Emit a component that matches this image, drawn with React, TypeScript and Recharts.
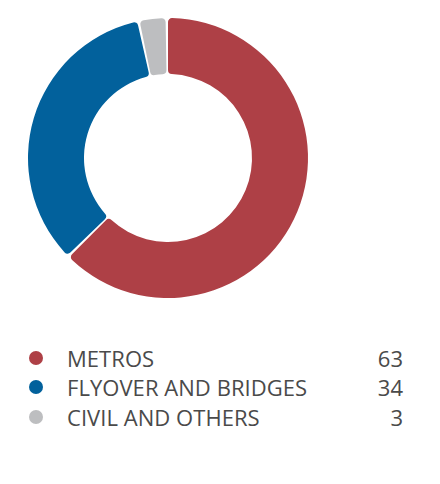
import React from 'react';
import { PieChart, Pie, Cell } from 'recharts';

const categories = ['METROS', 'FLYOVER AND BRIDGES', 'CIVIL AND OTHERS'];
const values = [63, 34, 3];
const colors = ['#AE4046', '#02619C', '#BDBEC0'];

const data = categories.map((name, i) => ({ name, value: values[i] }));

function LegendTable() {
  return (
    <div
      style={{
        position: 'absolute',
        top: 335,
        left: 0,
        width: 432,
        fontFamily: '"Open Sans", sans-serif',
        fontSize: 22,
        color: '#4a4a4a',
      }}
    >
      {categories.map((name, index) => (
        <div key={name} style={{ display: 'flex', alignItems: 'center', height: 29.5 }}>
          <span
            style={{
              width: 14,
              height: 14,
              borderRadius: '50%',
              backgroundColor: colors[index],
              display: 'inline-block',
              marginLeft: 21,
              marginRight: 24,
            }}
          />
          <span style={{ flex: 1, letterSpacing: 0.05 }}>{name}</span>
          <span style={{ width: 60, textAlign: 'right', marginRight: 37 }}>{values[index]}</span>
        </div>
      ))}
    </div>
  );
}

export default function App() {
  return (
    <div style={{ position: 'relative', width: 432, height: 476 }}>
      <PieChart width={432} height={476} margin={{ top: 0, right: 0, bottom: 0, left: 0 }}>
        <Pie
          data={data}
          dataKey="value"
          nameKey="name"
          cx={160}
          cy={150}
          innerRadius={84}
          outerRadius={140}
          startAngle={90}
          endAngle={-270}
          paddingAngle={1}
          cornerRadius={4}
          stroke="none"
          isAnimationActive={false}
        >
          {data.map((d, i) => (
            <Cell key={d.name} fill={colors[i]} />
          ))}
        </Pie>
      </PieChart>
      <LegendTable />
    </div>
  );
}
